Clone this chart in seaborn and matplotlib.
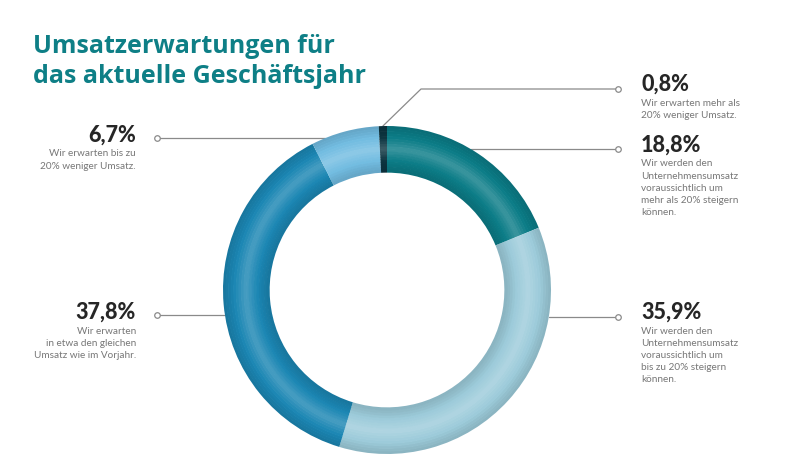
import numpy as np
import matplotlib
matplotlib.use("Agg")
import matplotlib.pyplot as plt
import matplotlib.colors as mcolors
import seaborn as sns

# data, clockwise from 12 o'clock
values = [18.8, 35.9, 37.8, 6.7, 0.8]
colors = ["#0b7c87", "#9ccbda", "#1b86b3", "#72bce1", "#0c3440"]
descriptions = [
    "Wir werden den\nUnternehmensumsatz\nvoraussichtlich um\nmehr als 20% steigern\nkönnen.",
    "Wir werden den\nUnternehmensumsatz\nvoraussichtlich um\nbis zu 20% steigern\nkönnen.",
    "Wir erwarten\nin etwa den gleichen\nUmsatz wie im Vorjahr.",
    "Wir erwarten bis zu\n20% weniger Umsatz.",
    "Wir erwarten mehr als\n20% weniger Umsatz.",
]
title_lines = ["Umsatzerwartungen für", "das aktuelle Geschäftsjahr"]

sns.set_theme(style="white")
plt.rcParams["font.family"] = ["Lato", "DejaVu Sans"]

W, H = 800, 472
fig = plt.figure(figsize=(W / 100, H / 100), dpi=100)
fig.patch.set_facecolor("white")

# donut geometry in pixels
cx, cy, R = 387, 290, 164
ring = 46 / R

# overlay axes in pixel coordinates
ov = fig.add_axes([0, 0, 1, 1], zorder=0)
ov.set_xlim(0, W)
ov.set_ylim(H, 0)
ov.axis("off")

# pie axes
ax = fig.add_axes([(cx - R) / W, (H - cy - R) / H, 2 * R / W, 2 * R / H], zorder=1)
ax.patch.set_alpha(0)


def shade(c, t):
    rgb = np.array(mcolors.to_rgb(c))
    if t >= 0:
        return tuple(rgb + (1 - rgb) * t)
    return tuple(rgb * (1 + t))


n_layers = 18
for k in range(n_layers):
    pos = (k + 0.5) / n_layers
    mid = 1 - abs(2 * pos - 1)
    t = 0.2 * mid ** 2 - 0.12 * (1 - mid) ** 1.5
    layer_cols = [shade(c, t) for c in colors]
    r_out = 1 - k * ring / n_layers
    ax.pie(values, colors=layer_cols, startangle=90, counterclock=False,
           radius=r_out,
           wedgeprops=dict(width=ring / n_layers + 0.004, linewidth=0))
ax.set_xlim(-1, 1)
ax.set_ylim(-1, 1)
ax.set_aspect("auto")
ax.axis("off")

# title
for y, line in zip([53, 83], title_lines):
    ov.text(33, y, line, color="#0e7f86", fontsize=18, fontweight="bold",
            family=["Open Sans", "DejaVu Sans"], va="baseline")

line_col = "#8a8a8a"
pct_col = "#262626"
desc_col = "#777777"


def ring_x(y, side):
    dx = np.sqrt(max(R ** 2 - (cy - y) ** 2, 0))
    return cx + side * dx


def label(i, y_pct, side):
    txt = f"{values[i]:.1f}".replace(".", ",") + "%"
    if side > 0:
        x_dot, x_txt, ha = 618, 641, "left"
    else:
        x_dot, x_txt, ha = 157, 136, "right"
    ov.text(x_txt, y_pct, txt, fontsize=15.5, fontweight="black", color=pct_col,
            ha=ha, va="center")
    ov.text(x_txt, y_pct + 14.5, descriptions[i], fontsize=7.2, color=desc_col,
            ha=ha, va="top", linespacing=1.45)
    return x_dot


def leader(xs, ys, xd, yd):
    ov.plot(xs, ys, color=line_col, lw=0.9)
    ov.plot(xd, yd, "o", ms=4, mfc="white", mec=line_col, mew=0.9)


# 18,8 %
xd = label(0, 145, 1)
leader([ring_x(149, 1), xd], [149, 149], xd, 149)
# 35,9 %
xd = label(1, 312, 1)
leader([ring_x(317, 1), xd], [317, 317], xd, 317)
# 37,8 %
xd = label(2, 312, -1)
leader([xd, ring_x(315, -1)], [315, 315], xd, 315)
# 6,7 %
xd = label(3, 135, -1)
leader([xd, ring_x(138, -1)], [138, 138], xd, 138)
# 0,8 %
xd = label(4, 84, 1)
ang = np.deg2rad(360 - values[4] / 100 * 360 / 2)
x0, y0 = cx + R * np.sin(ang), cy - R * np.cos(ang)
leader([x0, 421, xd], [y0, 89, 89], xd, 89)

fig.savefig("out.png", dpi=100, facecolor="white")
